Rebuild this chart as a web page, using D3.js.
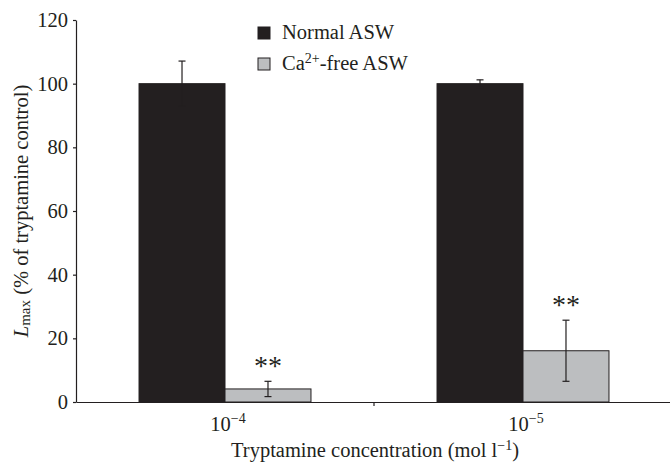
<!DOCTYPE html>
<html><head><meta charset="utf-8">
<script src="https://cdn.jsdelivr.net/npm/d3@7"></script>
<style>body{margin:0;background:#fff}svg{display:block}text{font-family:"Liberation Serif","Times New Roman",serif;fill:#231f20}</style>
</head><body><svg id="c" width="670" height="463"></svg>
<script>
const categories = ["-4", "-5"];           // exponent of 10 (mol l-1)
const series = ["Normal ASW", "Ca2+-free ASW"];
const normalValues = [100, 100];
const normalErrors = [7.1, 1.2];
const cafreeValues = [4.1, 16.1];
const cafreeErrors = [2.4, 9.6];
const significance = ["**", "**"];
const yTicks = [0, 20, 40, 60, 80, 100, 120];
const colors = ["#231f20", "#bcbec0"];

const svg = d3.select("#c");
const m = {left: 76, right: 672, top: 20, bottom: 402};
const y = d3.scaleLinear().domain([0, 120]).range([m.bottom, m.top]);
const x0 = d3.scaleBand().domain(categories).range([m.left, m.right]).paddingInner(0).paddingOuter(0);
const x1 = d3.scaleBand().domain(series).range([0, x0.bandwidth()]).paddingInner(0).paddingOuter(0.733);

const data = categories.map((c, i) => ({
  c, vals: [
    {s: series[0], v: normalValues[i], e: normalErrors[i]},
    {s: series[1], v: cafreeValues[i], e: cafreeErrors[i]}
  ], sig: significance[i]
}));

const g = svg.append("g");
const grp = g.selectAll("g.grp").data(data).join("g").attr("transform", d => `translate(${x0(d.c)},0)`);
grp.selectAll("rect").data(d => d.vals).join("rect")
  .attr("x", d => x1(d.s)).attr("width", x1.bandwidth())
  .attr("y", d => y(d.v)).attr("height", d => y(0) - y(d.v))
  .attr("fill", (d, i) => colors[i]).attr("stroke", "#231f20").attr("stroke-width", 1);
// error bars
grp.selectAll("g.err").data(d => d.vals).join("g").attr("class", "err").each(function(d) {
  const cx = x1(d.s) + x1.bandwidth() / 2;
  const s = d3.select(this);
  s.append("line").attr("x1", cx).attr("x2", cx).attr("y1", y(d.v - d.e)).attr("y2", y(d.v + d.e)).attr("stroke", "#231f20").attr("stroke-width", 1.2);
  [d.v - d.e, d.v + d.e].forEach(v => s.append("line").attr("x1", cx - 3.5).attr("x2", cx + 3.5).attr("y1", y(v)).attr("y2", y(v)).attr("stroke", "#231f20").attr("stroke-width", 1.2));
});
// significance
grp.append("text").attr("x", d => x1(series[1]) + x1.bandwidth() / 2)
  .attr("y", d => y(d.vals[1].v + d.vals[1].e) - 6)
  .attr("text-anchor", "middle").attr("font-size", 28).text(d => d.sig);

// y axis
const ya = svg.append("g").attr("transform", `translate(${m.left},0)`)
  .call(d3.axisLeft(y).tickValues(yTicks).tickSize(3).tickSizeOuter(0).tickPadding(5));
ya.selectAll("text").attr("font-size", 20.5).attr("font-family", "Liberation Serif").attr("fill", "#231f20");
ya.selectAll("line,path").attr("stroke", "#231f20").attr("stroke-width", 1.2);

// x axis
const xa = svg.append("g").attr("transform", `translate(0,${m.bottom})`)
  .call(d3.axisBottom(x0).tickSize(0).tickSizeOuter(0).tickFormat(""));
xa.selectAll("path").attr("stroke", "#231f20").attr("stroke-width", 1.2);
xa.append("line").attr("x1", x0(categories[1])).attr("x2", x0(categories[1])).attr("y1", 0).attr("y2", 4).attr("stroke", "#231f20").attr("stroke-width", 1.2);
const lab = svg.selectAll("text.xl").data(categories).join("text").attr("class", "xl")
  .attr("x", d => x0(d) + x0.bandwidth() / 2 + 3).attr("y", 431).attr("text-anchor", "middle").attr("font-size", 20.5);
lab.append("tspan").text("10");
lab.append("tspan").attr("dy", -8).attr("font-size", 14).text(d => d.replace("-", "\u2212"));

// x title
const xt = svg.append("text").attr("x", 375).attr("y", 457).attr("text-anchor", "middle").attr("font-size", 20.5);
xt.append("tspan").text("Tryptamine concentration (mol l");
xt.append("tspan").attr("dy", -7).attr("font-size", 14).text("\u22121");
xt.append("tspan").attr("dy", 7).text(")");

// y title
const yt = svg.append("text").attr("transform", "translate(28,211) rotate(-90)").attr("text-anchor", "middle").attr("font-size", 20.5);
yt.append("tspan").attr("font-style", "italic").text("L");
yt.append("tspan").attr("font-size", 15).attr("dy", 2).text("max");
yt.append("tspan").attr("dy", -2).text(" (% of tryptamine control)");

// legend
const lg = svg.append("g").attr("transform", "translate(258,27)");
series.forEach((s, i) => {
  const r = lg.append("g").attr("transform", `translate(0,${i * 31})`);
  r.append("rect").attr("width", 12).attr("height", 12).attr("fill", colors[i]).attr("stroke", "#231f20").attr("stroke-width", 1);
  const t = r.append("text").attr("x", 24).attr("y", 12).attr("font-size", 20.5);
  if (i === 0) t.text(s);
  else {
    t.append("tspan").text("Ca");
    t.append("tspan").attr("dy", -7).attr("font-size", 14).text("2+");
    t.append("tspan").attr("dy", 7).text("-free ASW");
  }
});
</script></body></html>
